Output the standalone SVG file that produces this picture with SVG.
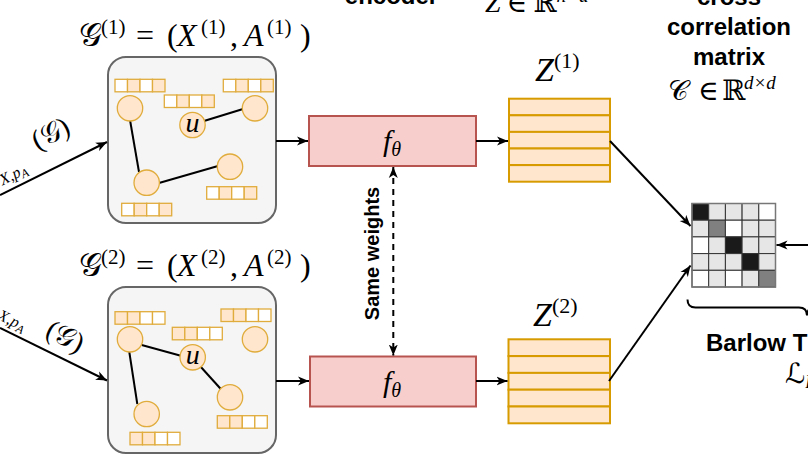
<svg xmlns="http://www.w3.org/2000/svg" width="808" height="455" viewBox="0 0 808 455">
<defs>
<marker id="arr" markerUnits="userSpaceOnUse" markerWidth="12" markerHeight="10" refX="11" refY="5" orient="auto-start-reverse">
<path d="M0,0.5 L11,5 L0,9.5 L3,5 z" fill="#000"/>
</marker>
<style>
.box{fill:#f5f5f5;stroke:#666;stroke-width:2}
.nd{fill:#ffe6cc;stroke:#e0ac3c;stroke-width:1.3}
.w{fill:#fff;stroke:#e0ac3c;stroke-width:1.3}
.p{fill:#ffe6cc;stroke:#e0ac3c;stroke-width:1.3}
.e{stroke:#000;stroke-width:2;fill:none}
.enc{fill:#f8cecc;stroke:#b85450;stroke-width:2}
.row{fill:#ffe6cc;stroke:#d79b00;stroke-width:2}
.con{stroke:#000;stroke-width:2;fill:none;marker-end:url(#arr)}
.m{font-family:"Liberation Serif","DejaVu Serif",serif;font-style:italic;fill:#000}
.mr{font-family:"Liberation Serif","DejaVu Serif",serif;font-style:normal;fill:#000}
.sc{font-family:"DejaVu Serif","DejaVu Sans",serif;font-style:normal;fill:#000}
.b{font-family:"Liberation Sans",Arial,sans-serif;font-weight:bold;fill:#000}
.c0{fill:#fff;stroke:#333;stroke-width:1}
.c1{fill:#e6e6e6;stroke:#333;stroke-width:1}
.c2{fill:#808080;stroke:#333;stroke-width:1}
.c3{fill:#1a1a1a;stroke:#333;stroke-width:1}
</style>
</defs>

<!-- top cut-off texts -->
<g id="top-texts">
<text class="b" x="391.5" y="3.5" font-size="24" text-anchor="middle">encoder</text>
<text x="485" y="12" font-size="28"><tspan class="m">Z</tspan><tspan class="mr" dx="6">∈</tspan><tspan class="sc" dx="6">ℝ</tspan><tspan class="m" font-size="19" dy="-10">n×d</tspan></text>
<text class="b" x="729" y="5" font-size="24" text-anchor="middle">cross</text>
<text class="b" x="729" y="35" font-size="24" text-anchor="middle">correlation</text>
<text class="b" x="729" y="65" font-size="24" text-anchor="middle">matrix</text>
<text x="668" y="100" font-size="28"><tspan class="sc">𝒞</tspan><tspan class="mr" x="698">∈</tspan><tspan class="sc" x="722">ℝ</tspan><tspan class="m" x="744" y="89" font-size="19">d×d</tspan></text>
</g>

<!-- titles -->
<g id="title1">
<text y="46" font-size="32"><tspan class="sc" x="79">𝒢</tspan><tspan class="mr" x="101" y="34" font-size="21">(1)</tspan><tspan class="mr" x="136" y="46">=</tspan><tspan class="mr" x="167">(</tspan><tspan class="m" x="177">X</tspan><tspan class="mr" x="201" y="34" font-size="21">(1)</tspan><tspan class="mr" x="230" y="46">,</tspan><tspan class="m" x="244">A</tspan><tspan class="mr" x="267" y="34" font-size="21">(1)</tspan><tspan class="mr" x="300" y="46">)</tspan></text>
</g>
<g id="title2">
<text y="276" font-size="32"><tspan class="sc" x="79">𝒢</tspan><tspan class="mr" x="101" y="264" font-size="21">(2)</tspan><tspan class="mr" x="136" y="276">=</tspan><tspan class="mr" x="167">(</tspan><tspan class="m" x="177">X</tspan><tspan class="mr" x="201" y="264" font-size="21">(2)</tspan><tspan class="mr" x="230" y="276">,</tspan><tspan class="m" x="244">A</tspan><tspan class="mr" x="267" y="264" font-size="21">(2)</tspan><tspan class="mr" x="300" y="276">)</tspan></text>
</g>

<!-- graph 1 -->
<g id="graph1">
<rect class="box" x="108" y="57" width="168" height="166" rx="18"/>
<line class="e" x1="130" y1="120" x2="139" y2="172"/>
<line class="e" x1="159" y1="183" x2="218" y2="166"/>
<line class="e" x1="204" y1="121" x2="243" y2="109"/>
<circle class="nd" cx="130" cy="108.3" r="12.7"/>
<circle class="nd" cx="255" cy="108.3" r="12.7"/>
<circle class="nd" cx="192.5" cy="125" r="12.7"/>
<circle class="nd" cx="146.7" cy="182.7" r="12.7"/>
<circle class="nd" cx="230" cy="166.7" r="12.7"/>
<text class="m" x="192.5" y="132" font-size="28" text-anchor="middle">u</text>
<g transform="translate(115,79.3)"><rect class="w" width="12.5" height="12.5"/><rect class="p" x="12.5" width="12.5" height="12.5"/><rect class="w" x="25" width="12.5" height="12.5"/><rect class="p" x="37.5" width="12.5" height="12.5"/></g>
<g transform="translate(164.3,95)"><rect class="w" width="12.5" height="12.5"/><rect class="p" x="12.5" width="12.5" height="12.5"/><rect class="w" x="25" width="12.5" height="12.5"/><rect class="p" x="37.5" width="12.5" height="12.5"/></g>
<g transform="translate(223.3,79.3)"><rect class="w" width="12.5" height="12.5"/><rect class="p" x="12.5" width="12.5" height="12.5"/><rect class="w" x="25" width="12.5" height="12.5"/><rect class="p" x="37.5" width="12.5" height="12.5"/></g>
<g transform="translate(206.7,186.7)"><rect class="w" width="12.5" height="12.5"/><rect class="p" x="12.5" width="12.5" height="12.5"/><rect class="w" x="25" width="12.5" height="12.5"/><rect class="p" x="37.5" width="12.5" height="12.5"/></g>
<g transform="translate(121.7,203.3)"><rect class="w" width="12.5" height="12.5"/><rect class="p" x="12.5" width="12.5" height="12.5"/><rect class="w" x="25" width="12.5" height="12.5"/><rect class="p" x="37.5" width="12.5" height="12.5"/></g>
</g>

<!-- graph 2 -->
<g id="graph2">
<rect class="box" x="108" y="287" width="168" height="166" rx="18"/>
<line class="e" x1="141.7" y1="345" x2="181.7" y2="356"/>
<line class="e" x1="129.3" y1="352" x2="137.3" y2="404"/>
<line class="e" x1="200" y1="366" x2="221.7" y2="390"/>
<circle class="nd" cx="130" cy="339.3" r="12.7"/>
<circle class="nd" cx="255" cy="339.3" r="12.7"/>
<circle class="nd" cx="192.7" cy="357.3" r="12.7"/>
<circle class="nd" cx="146.7" cy="414" r="12.7"/>
<circle class="nd" cx="230" cy="397.3" r="12.7"/>
<text class="m" x="192.7" y="364.3" font-size="28" text-anchor="middle">u</text>
<g transform="translate(115,311.7)"><rect class="p" width="12.5" height="12.5"/><rect class="p" x="12.5" width="12.5" height="12.5"/><rect class="w" x="25" width="12.5" height="12.5"/><rect class="w" x="37.5" width="12.5" height="12.5"/></g>
<g transform="translate(172.3,327.3)"><rect class="p" width="12.5" height="12.5"/><rect class="p" x="12.5" width="12.5" height="12.5"/><rect class="w" x="25" width="12.5" height="12.5"/><rect class="w" x="37.5" width="12.5" height="12.5"/></g>
<g transform="translate(221,309)"><rect class="p" width="12.5" height="12.5"/><rect class="p" x="12.5" width="12.5" height="12.5"/><rect class="w" x="25" width="12.5" height="12.5"/><rect class="w" x="37.5" width="12.5" height="12.5"/></g>
<g transform="translate(217.3,415.7)"><rect class="p" width="12.5" height="12.5"/><rect class="p" x="12.5" width="12.5" height="12.5"/><rect class="w" x="25" width="12.5" height="12.5"/><rect class="w" x="37.5" width="12.5" height="12.5"/></g>
<g transform="translate(130,432.3)"><rect class="p" width="12.5" height="12.5"/><rect class="p" x="12.5" width="12.5" height="12.5"/><rect class="w" x="25" width="12.5" height="12.5"/><rect class="w" x="37.5" width="12.5" height="12.5"/></g>
</g>

<!-- encoders -->
<g id="encoder1">
<rect class="enc" x="309" y="116" width="167" height="50"/>
<text x="383" y="151" font-size="30"><tspan class="m">f</tspan><tspan class="m" font-size="20" dy="5">θ</tspan></text>
</g>
<g id="encoder2">
<rect class="enc" x="310" y="356.5" width="166" height="50"/>
<text x="383" y="391.5" font-size="30"><tspan class="m">f</tspan><tspan class="m" font-size="20" dy="5">θ</tspan></text>
</g>

<!-- embeddings -->
<g id="Z1">
<rect class="row" x="509" y="98.7" width="101" height="16.6"/>
<rect class="row" x="509" y="115.3" width="101" height="16.6"/>
<rect class="row" x="509" y="131.9" width="101" height="16.6"/>
<rect class="row" x="509" y="148.5" width="101" height="16.6"/>
<rect class="row" x="509" y="165.1" width="101" height="16.6"/>
<text x="535" y="81" font-size="34"><tspan class="m">Z</tspan><tspan class="mr" font-size="22" dy="-13">(1)</tspan></text>
</g>
<g id="Z2">
<rect class="row" x="508.5" y="339.3" width="101.5" height="16.8"/>
<rect class="row" x="508.5" y="356.1" width="101.5" height="16.8"/>
<rect class="row" x="508.5" y="372.9" width="101.5" height="16.8"/>
<rect class="row" x="508.5" y="389.7" width="101.5" height="16.8"/>
<rect class="row" x="508.5" y="406.5" width="101.5" height="16.8"/>
<text x="533" y="326" font-size="34"><tspan class="m">Z</tspan><tspan class="mr" font-size="22" dy="-13">(2)</tspan></text>
</g>

<!-- cross-correlation matrix -->
<g id="matrix">
<g transform="translate(692,203.5)">
<rect class="c3" x="0" y="0" width="16.7" height="16.7"/><rect class="c1" x="16.7" y="0" width="16.7" height="16.7"/><rect class="c1" x="33.4" y="0" width="16.7" height="16.7"/><rect class="c1" x="50.1" y="0" width="16.7" height="16.7"/><rect class="c0" x="66.8" y="0" width="16.7" height="16.7"/>
<rect class="c1" x="0" y="16.7" width="16.7" height="16.7"/><rect class="c2" x="16.7" y="16.7" width="16.7" height="16.7"/><rect class="c0" x="33.4" y="16.7" width="16.7" height="16.7"/><rect class="c1" x="50.1" y="16.7" width="16.7" height="16.7"/><rect class="c1" x="66.8" y="16.7" width="16.7" height="16.7"/>
<rect class="c0" x="0" y="33.4" width="16.7" height="16.7"/><rect class="c1" x="16.7" y="33.4" width="16.7" height="16.7"/><rect class="c3" x="33.4" y="33.4" width="16.7" height="16.7"/><rect class="c1" x="50.1" y="33.4" width="16.7" height="16.7"/><rect class="c1" x="66.8" y="33.4" width="16.7" height="16.7"/>
<rect class="c1" x="0" y="50.1" width="16.7" height="16.7"/><rect class="c1" x="16.7" y="50.1" width="16.7" height="16.7"/><rect class="c1" x="33.4" y="50.1" width="16.7" height="16.7"/><rect class="c3" x="50.1" y="50.1" width="16.7" height="16.7"/><rect class="c1" x="66.8" y="50.1" width="16.7" height="16.7"/>
<rect class="c0" x="0" y="66.8" width="16.7" height="16.7"/><rect class="c1" x="16.7" y="66.8" width="16.7" height="16.7"/><rect class="c0" x="33.4" y="66.8" width="16.7" height="16.7"/><rect class="c1" x="50.1" y="66.8" width="16.7" height="16.7"/><rect class="c2" x="66.8" y="66.8" width="16.7" height="16.7"/>
<rect x="0" y="0" width="83.5" height="83.5" fill="none" stroke="#777" stroke-width="1.5"/>
</g>
</g>

<!-- loss -->
<g id="loss">
<path class="e" d="M687.5,299.5 Q687.5,307.5 695.5,307.5 L799,307.5 Q807,307.5 807,315.5 Q807,307.5 815,307.5"/>
<text class="b" x="706" y="351" font-size="24">Barlow T</text>
<text x="785" y="383" font-size="28"><tspan class="sc">ℒ</tspan><tspan class="m" font-size="18" dy="5">BT</tspan></text>
</g>

<!-- connectors -->
<g id="connectors">
<line class="con" x1="0" y1="195" x2="107" y2="142"/>
<line class="con" x1="0" y1="328" x2="107" y2="380.5"/>
<line class="con" x1="276" y1="141" x2="308" y2="141"/>
<line class="con" x1="276" y1="381" x2="309" y2="381"/>
<line class="con" x1="476" y1="141" x2="508" y2="141"/>
<line class="con" x1="476" y1="381" x2="507.5" y2="381"/>
<line class="con" x1="393.3" y1="167" x2="393.3" y2="355.5" stroke-dasharray="6,5" style="marker-start:url(#arr)"/>
<line class="con" x1="610" y1="141" x2="690.5" y2="226"/>
<line class="con" x1="609" y1="381" x2="690.5" y2="265.5"/>
<line class="con" x1="808" y1="245" x2="776.5" y2="245"/>
<text class="b" transform="translate(379,253.5) rotate(-90)" font-size="20" text-anchor="middle">Same weights</text>
<g transform="translate(108,141.7) rotate(-26.57)">
<text font-size="16"><tspan class="m" x="-114" y="-8">X</tspan><tspan class="mr">,</tspan><tspan class="m">p</tspan><tspan class="m" font-size="12" dy="3">A</tspan><tspan class="mr" x="-67" y="-24" font-size="28">(</tspan><tspan class="sc" font-size="28">𝒢</tspan><tspan class="mr" font-size="28">)</tspan></text>
</g>
<g transform="translate(108,380.5) rotate(25.9)">
<text font-size="16"><tspan class="m" x="-127" y="-7">X</tspan><tspan class="mr">,</tspan><tspan class="m">p</tspan><tspan class="m" font-size="12" dy="3">A</tspan><tspan class="mr" x="-77" y="-12" font-size="28">(</tspan><tspan class="sc" font-size="28">𝒢</tspan><tspan class="mr" font-size="28">)</tspan></text>
</g>
</g>
</svg>
